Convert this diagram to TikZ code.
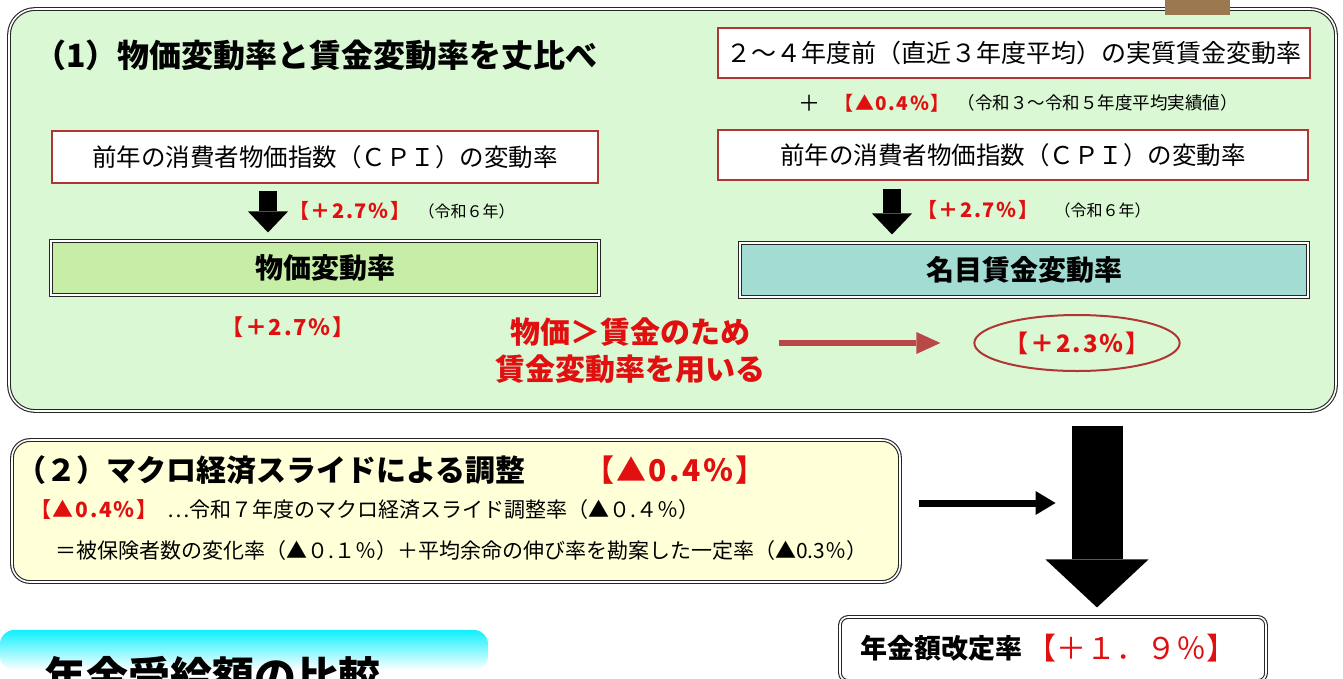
\documentclass[tikz,border=0pt]{standalone}
\usepackage{fontspec}
\setmainfont{Noto Sans CJK JP}
\usetikzlibrary{arrows.meta,shapes.geometric,positioning}
\definecolor{panelgreen}{HTML}{DAF8D4}
\definecolor{pricegreen}{HTML}{C6EEA6}
\definecolor{wageteal}{HTML}{A2DCD2}
\definecolor{panelyellow}{HTML}{FFFFD8}
\definecolor{hired}{HTML}{E01010}
\definecolor{darkred}{HTML}{B03636}
\definecolor{arrowred}{HTML}{BA4848}
\definecolor{tapebrown}{HTML}{9C7850}
\definecolor{bannercyan}{HTML}{10F0FF}
\newcommand\fsz[1]{\fontsize{#1}{#1}\selectfont}
\tikzset{
  txt/.style={inner sep=0pt},
  dbl/.style={draw=black!85,double=white,double distance=1.6pt,line width=1.1pt},
  whitebox/.style={draw=darkred,line width=1.6pt,fill=white,inner sep=0pt},
  rate/.style={dbl,inner sep=0pt,font=\bfseries\fsz{28}},
  redval/.style={txt,text=hired,font=\bfseries\fsz{#1}\addfontfeature{LetterSpace=8}},
  downarrow/.style={line width=18pt,-{Triangle[width=40pt,length=21pt,line width=0pt]}}
}
\begin{document}
\begin{tikzpicture}[x=1pt,y=-1pt]
\useasboundingbox (0,0) rectangle (1343,678);
% (1) panel
\node[dbl,fill=panelgreen,rounded corners=26pt,minimum width=1327pt,minimum height=402pt] (p1) at (672.5,210) {};
\fill[tapebrown] (1165,0) rectangle (1230,15);
\node[txt,anchor=west,font=\bfseries\fsz{32}] (t1) at (34,55) {（1）物価変動率と賃金変動率を丈比べ};
% left column
\node[whitebox,minimum width=546pt,minimum height=52pt,font=\fsz{24.5}] (cpiL) at (325,157) {前年の消費者物価指数（ＣＰＩ）の変動率};
\node[rate,fill=pricegreen,minimum width=548pt,minimum height=54pt] (price) at (325,268) {物価変動率};
\draw[downarrow] ([xshift=-57pt,yshift=-7pt]cpiL.south) -- ([xshift=-57pt,yshift=8pt]price.north);
\node[redval=20,anchor=west] (upL) at (289,211) {【＋2.7％】};
\node[txt,right=8pt of upL,font=\fsz{16}] (yrL) {（令和６年）};
\node[redval=22] (resL) at (288,327) {【＋2.7％】};
% right column
\node[whitebox,minimum width=592pt,minimum height=50pt,font=\fsz{25}] (real) at (1014,53) {２～４年度前（直近３年度平均）の実質賃金変動率};
\node[txt,anchor=west,font=\fsz{22}] (plus) at (798,103) {＋};
\node[redval=19,right=14pt of plus] (m04a) {【▲0.4％】};
\node[txt,right=8pt of m04a,font=\fsz{17.5}] (r35) {（令和３～令和５年度平均実績値）};
\node[whitebox,minimum width=590pt,minimum height=50pt,font=\fsz{24.5}] (cpiR) at (1013,155) {前年の消費者物価指数（ＣＰＩ）の変動率};
\node[rate,fill=wageteal,minimum width=568pt,minimum height=54pt] (wage) at (1024,270) {名目賃金変動率};
\draw[downarrow] ([xshift=-121pt,yshift=-8pt]cpiR.south) -- ([xshift=-132pt,yshift=8pt]wage.north);
\node[redval=20,anchor=west] (upR) at (917,210) {【＋2.7％】};
\node[txt,right=16pt of upR,font=\fsz{16}] (yrR) {（令和６年）};
% comparison
\node[txt,align=center,font=\bfseries\fontsize{30}{37}\selectfont,text=hired] (why) at (630,351) {物価＞賃金のため\\賃金変動率を用いる};
\node[draw=darkred,line width=2pt,ellipse,minimum width=184pt,minimum height=56pt,inner sep=0pt,redval=24] (use) at (1077,343) {【＋2.3％】};
\draw[arrowred,line width=6pt,-{Triangle[width=22pt,length=24pt,line width=0pt]}] ([xshift=14pt]why.east |- use.west) -- ([xshift=-33pt]use.west);
% (2) panel
\node[dbl,fill=panelyellow,rounded corners=18pt,minimum width=888pt,minimum height=142pt] (p2) at (456,511) {};
\node[txt,anchor=west,font=\bfseries\fsz{30}] (t2) at (16,470) {（２）マクロ経済スライドによる調整};
\node[redval=30,anchor=west] (m04b) at (584,470) {【▲0.4％】};
\node[redval=21,anchor=west] (m04c) at (30,510) {【▲0.4％】};
\node[txt,right=10pt of m04c,font=\fsz{21}] (slide) {…令和７年度のマクロ経済スライド調整率（▲０.４％）};
\node[txt,anchor=west,font=\fsz{21}] (split) at (55,551) {＝被保険者数の変化率（▲０.１％）＋平均余命の伸び率を勘案した一定率（▲0.3％）};
% result
\node[dbl,fill=white,rounded corners=8pt,minimum width=426pt,minimum height=64pt] (fin) at (1053,649) {};
\node[txt,anchor=west,font=\bfseries\fsz{27}] (finA) at (860,648) {年金額改定率};
\node[txt,right=4pt of finA,font=\fsz{30},text=hired] (finB) {【＋１．９％】};
\coordinate (bigtop) at (1097,426);
\draw[line width=51pt,-{Triangle[width=103pt,length=48pt,line width=0pt]}] (bigtop) -- ([yshift=9pt]bigtop |- fin.north);
\draw[line width=7pt,-{Triangle[width=24pt,length=20pt,line width=0pt]}] ([xshift=18pt,yshift=8pt]p2.east) -- ++(137,0);
% banner
\shade[top color=bannercyan,bottom color=white,rounded corners=14pt] (0,630) rectangle (488,670);
\node[txt,anchor=west,font=\bfseries\fsz{42}] (cmp) at (44,676) {年金受給額の比較};
\end{tikzpicture}
\end{document}
